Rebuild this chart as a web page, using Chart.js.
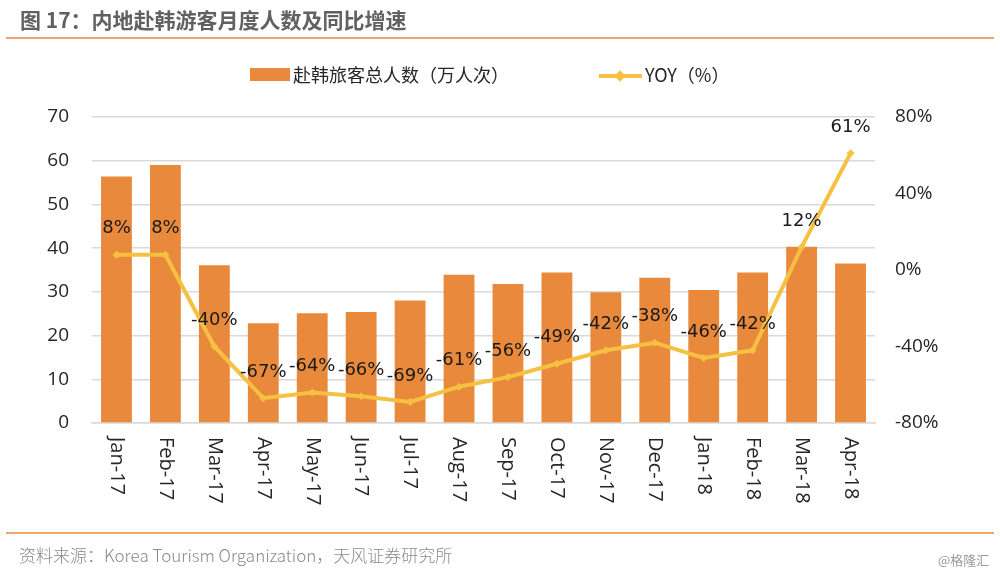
<!DOCTYPE html>
<html>
<head>
<meta charset="utf-8">
<script src="https://cdn.jsdelivr.net/npm/chart.js@4/dist/chart.umd.min.js"></script>
<style>
  html, body { margin:0; padding:0; background:#fff; }
  body { width:1000px; height:577px; position:relative; overflow:hidden; font-family:"Noto Sans CJK SC","Noto Sans",sans-serif; }
  #wrap { position:absolute; left:0; top:0; width:1000px; height:577px; }
  .title { position:absolute; left:20px; top:4px; font-size:21px; font-weight:700; color:#616161; white-space:nowrap; }
  .hr { position:absolute; left:6px; width:988px; height:2px; background:#F4A36A; }
  .src { position:absolute; left:19px; top:542px; font-size:17px; color:#8a8a8a; white-space:nowrap; font-weight:300; }
  .wm { position:absolute; left:938px; top:550px; font-size:13px; color:#9a9a9a; white-space:nowrap; }
  .lg { position:absolute; font-size:18px; color:#262626; white-space:nowrap; line-height:20px; }
</style>
</head>
<body>
<div id="wrap"><canvas id="c" width="1000" height="577"></canvas></div>
<div class="title">图 17：内地赴韩游客月度人数及同比增速</div>
<div class="hr" style="top:37px"></div>
<div class="hr" style="top:532px"></div>
<div class="src">资料来源：Korea Tourism Organization，天风证券研究所</div>
<div class="wm">@格隆汇</div>
<div style="position:absolute;left:250px;top:68px;width:40px;height:13px;background:#E8893C"></div>
<div class="lg" style="left:293px;top:64px">赴韩旅客总人数（万人次）</div>
<div style="position:absolute;left:599px;top:74px;width:43px;height:4px;background:#F6C142"></div>
<div style="position:absolute;left:616px;top:72px;width:8px;height:8px;background:#F6C142;transform:rotate(45deg)"></div>
<div class="lg" style="left:645px;top:64px">YOY（%）</div>
<script>
const categories = ["Jan-17","Feb-17","Mar-17","Apr-17","May-17","Jun-17","Jul-17","Aug-17","Sep-17","Oct-17","Nov-17","Dec-17","Jan-18","Feb-18","Mar-18","Apr-18"];
const visitors = [56.4, 59.0, 36.1, 22.8, 25.1, 25.4, 28.0, 33.9, 31.8, 34.4, 29.9, 33.2, 30.4, 34.4, 40.3, 36.5];
const yoy = [8, 8, -40, -67, -64, -66, -69, -61, -56, -49, -42, -38, -46, -42, 12, 61];
const leftTicks = [0, 10, 20, 30, 40, 50, 60, 70];
const rightTicks = [-80, -40, 0, 40, 80];

const labelPlugin = {
  id: 'customLabels',
  afterDatasetsDraw(chart) {
    const ctx = chart.ctx;
    const meta = chart.getDatasetMeta(1);
    ctx.save();
    ctx.font = '18px "DejaVu Sans"';
    ctx.fillStyle = '#1a1a1a';
    ctx.textAlign = 'center';
    ctx.textBaseline = 'middle';
    meta.data.forEach((pt, i) => {
      ctx.fillText(Math.round(yoy[i]) + '%', pt.x, pt.y - 26);
    });
    ctx.restore();
  },
  afterDraw(chart) {
    const ctx = chart.ctx;
    const xs = chart.scales.x;
    const y0 = chart.chartArea.bottom + 14;
    ctx.save();
    ctx.font = '20px "Open Sans"';
    ctx.fillStyle = '#262626';
    ctx.textAlign = 'left';
    ctx.textBaseline = 'middle';
    categories.forEach((c, i) => {
      const x = xs.getPixelForTick(i);
      ctx.save();
      ctx.translate(x, y0);
      ctx.rotate(Math.PI / 2);
      ctx.fillText(c, 0, 0);
      ctx.restore();
    });
    ctx.restore();
  }
};

new Chart(document.getElementById('c'), {
  data: {
    labels: categories,
    datasets: [
      {
        type: 'bar',
        label: '赴韩旅客总人数（万人次）',
        data: visitors,
        backgroundColor: '#E8893C',
        yAxisID: 'y',
        barPercentage: 0.63,
        categoryPercentage: 1.0,
        order: 2
      },
      {
        type: 'line',
        label: 'YOY（%）',
        data: yoy,
        borderColor: '#F6C142',
        backgroundColor: '#F6C142',
        borderWidth: 4,
        pointStyle: 'rectRot',
        pointRadius: 4,
        pointBorderWidth: 0,
        tension: 0,
        yAxisID: 'y1',
        order: 1
      }
    ]
  },
  plugins: [labelPlugin],
  options: {
    responsive: false,
    animation: false,
    devicePixelRatio: 1,
    layout: { padding: { top: 117, left: 0, right: 0, bottom: 0 } },
    plugins: { legend: { display: false }, tooltip: { enabled: false } },
    scales: {
      x: {
        grid: { display: false },
        border: { display: true, color: '#d9d9d9', width: 1.5 },
        ticks: { display: false },
        afterFit(s) { s.height = 154; }
      },
      y: {
        position: 'left',
        min: 0, max: 70,
        afterBuildTicks(s) { s.ticks = leftTicks.map(v => ({ value: v })); },
        grid: { color: '#d9d9d9', lineWidth: 1.5, drawTicks: false },
        border: { display: false },
        ticks: { padding: 23, color: '#262626', font: { family: 'Open Sans', size: 19 } },
        afterFit(s) { s.width = 92; }
      },
      y1: {
        position: 'right',
        min: -80, max: 80,
        afterBuildTicks(s) { s.ticks = rightTicks.map(v => ({ value: v })); },
        grid: { display: false, drawTicks: false },
        border: { display: false },
        ticks: { padding: 20, color: '#262626', font: { family: 'Open Sans', size: 19 }, callback: v => v + '%' },
        afterFit(s) { s.width = 125; }
      }
    }
  }
});
</script>
</body>
</html>
